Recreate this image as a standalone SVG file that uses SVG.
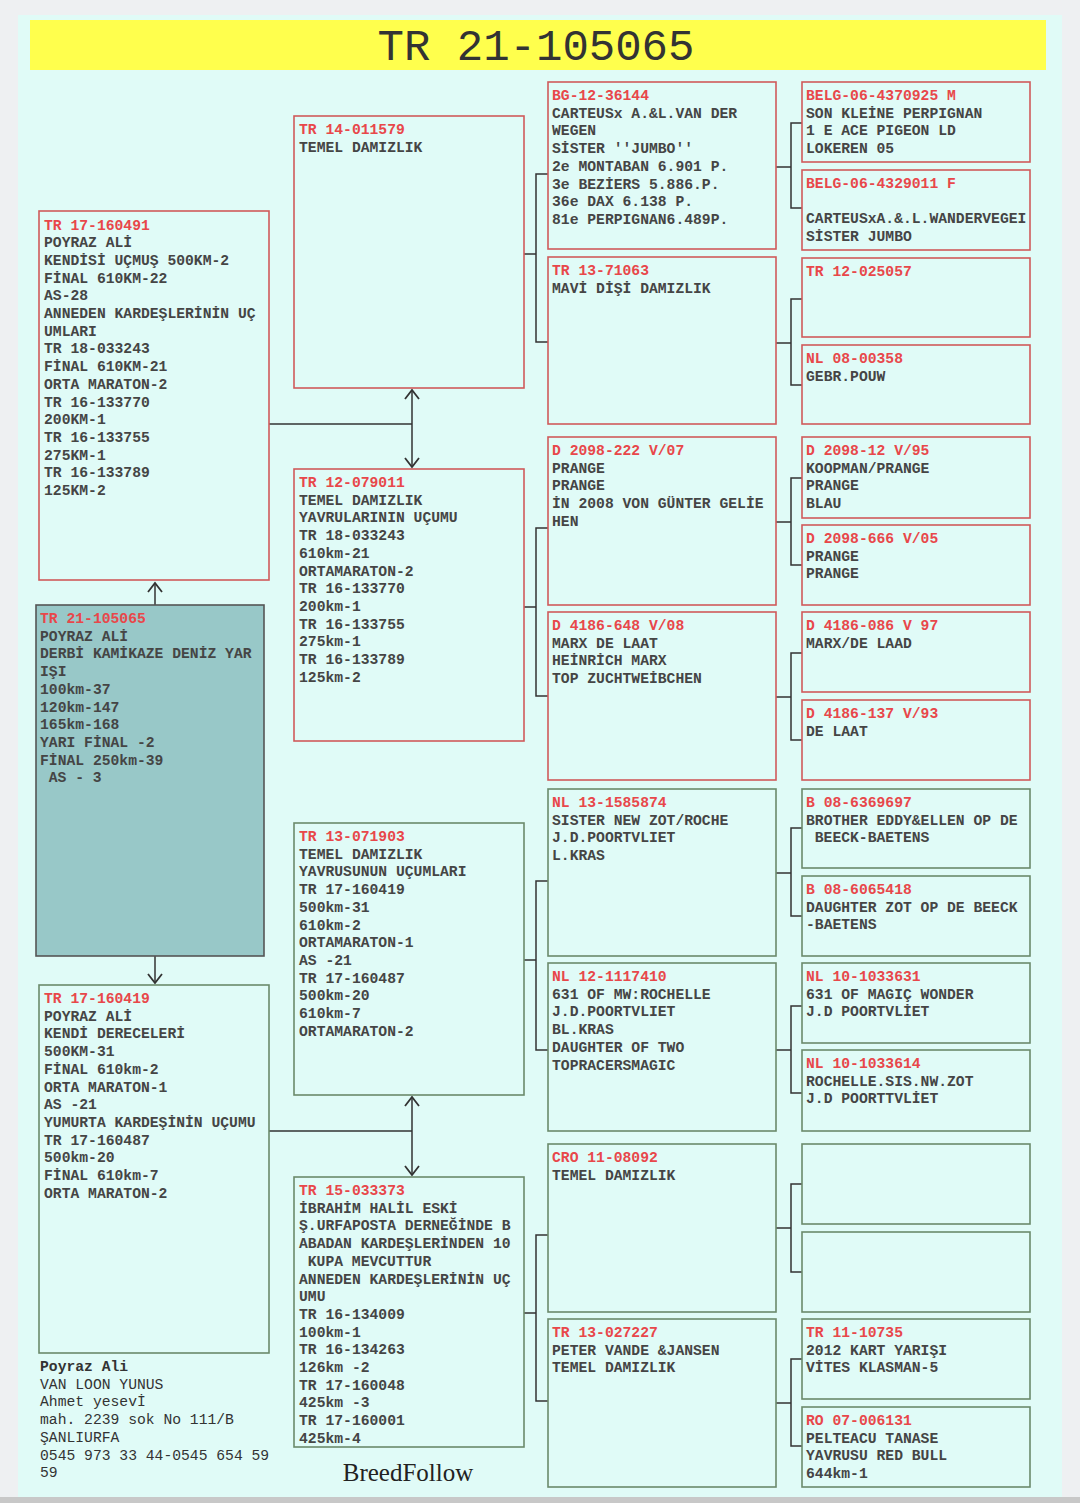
<svg xmlns="http://www.w3.org/2000/svg" width="1080" height="1503" viewBox="0 0 1080 1503">
<style>
.t{font-family:"Liberation Mono","Courier New",monospace;font-size:14.7px;font-weight:bold;fill:#454545}
.l{fill:#e8474a}
.f{font-family:"Liberation Mono","Courier New",monospace;font-size:14.7px;fill:#333}
.nr{fill:none;stroke:#d05a5a;stroke-width:1.6}
.ng{fill:none;stroke:#6b8a6b;stroke-width:1.6}
.sb{fill:#98c8c8;stroke:#555;stroke-width:1.6}
.c{fill:none;stroke:#333;stroke-width:1.5}
</style>
<defs>
<marker id="ah" markerUnits="userSpaceOnUse" markerWidth="20" markerHeight="20" refX="0" refY="0" viewBox="-12 -10 14 20" orient="auto-start-reverse">
<path d="M-9,-7 L0,0 L-9,7" fill="none" stroke="#333" stroke-width="1.8"/>
</marker>
</defs>
<rect x="0" y="0" width="1080" height="1503" fill="#eef0f2"/>
<rect x="18" y="15" width="1044" height="1482" fill="#e0fbf7"/>
<rect x="0" y="1497" width="1080" height="6" fill="#c8c8c8"/>
<rect x="30" y="20" width="1016" height="50" fill="#ffff4d"/>
<text x="536" y="60" text-anchor="middle" font-family="Liberation Mono, monospace" font-size="44" fill="#333">TR 21-105065</text>

<g id="connectors">
<path class="c" d="M155,605 L155,583" marker-end="url(#ah)"/>
<path class="c" d="M155,956 L155,983" marker-end="url(#ah)"/>
<path class="c" d="M269,424 L412,424"/>
<path class="c" d="M412,390 L412,467" marker-start="url(#ah)" marker-end="url(#ah)"/>
<path class="c" d="M269,1131 L412,1131"/>
<path class="c" d="M412,1097 L412,1175" marker-start="url(#ah)" marker-end="url(#ah)"/>
<path class="c" d="M524,254 L536,254 M548,174 L536,174 L536,342 L548,342"/>
<path class="c" d="M524,607 L536,607 M548,528 L536,528 L536,696 L548,696"/>
<path class="c" d="M524,960 L536,960 M548,881 L536,881 L536,1050 L548,1050"/>
<path class="c" d="M524,1313 L536,1313 M548,1235 L536,1235 L536,1401 L548,1401"/>
<path class="c" d="M776,167 L791,167 M802,123 L791,123 L791,208 L802,208"/>
<path class="c" d="M776,343 L791,343 M802,299 L791,299 L791,385 L802,385"/>
<path class="c" d="M776,522 L791,522 M802,478 L791,478 L791,565 L802,565"/>
<path class="c" d="M776,697 L791,697 M802,653 L791,653 L791,740 L802,740"/>
<path class="c" d="M776,873 L791,873 M802,828 L791,828 L791,916 L802,916"/>
<path class="c" d="M776,1050 L791,1050 M802,1006 L791,1006 L791,1093 L802,1093"/>
<path class="c" d="M776,1228 L791,1228 M802,1184 L791,1184 L791,1272 L802,1272"/>
<path class="c" d="M776,1403 L791,1403 M802,1359 L791,1359 L791,1446 L802,1446"/>
</g>

<g id="n-tr17-160491">
<rect class="nr" x="39" y="211" width="230" height="369"/>
<text class="t" x="44" y="229.5"><tspan class="l">TR 17-160491</tspan><tspan x="44" dy="17.7">POYRAZ ALİ</tspan><tspan x="44" dy="17.7">KENDİSİ UÇMUŞ 500KM-2</tspan><tspan x="44" dy="17.7">FİNAL 610KM-22</tspan><tspan x="44" dy="17.7">AS-28</tspan><tspan x="44" dy="17.7">ANNEDEN KARDEŞLERİNİN UÇ</tspan><tspan x="44" dy="17.7">UMLARI</tspan><tspan x="44" dy="17.7">TR 18-033243</tspan><tspan x="44" dy="17.7">FİNAL 610KM-21</tspan><tspan x="44" dy="17.7">ORTA MARATON-2</tspan><tspan x="44" dy="17.7">TR 16-133770</tspan><tspan x="44" dy="17.7">200KM-1</tspan><tspan x="44" dy="17.7">TR 16-133755</tspan><tspan x="44" dy="17.7">275KM-1</tspan><tspan x="44" dy="17.7">TR 16-133789</tspan><tspan x="44" dy="17.7">125KM-2</tspan></text>
</g>

<g id="n-tr21-105065">
<rect class="sb" x="36" y="605" width="228" height="351"/>
<text class="t" x="40" y="623"><tspan class="l">TR 21-105065</tspan><tspan x="40" dy="17.7">POYRAZ ALİ</tspan><tspan x="40" dy="17.7">DERBİ KAMİKAZE DENİZ YAR</tspan><tspan x="40" dy="17.7">IŞI</tspan><tspan x="40" dy="17.7">100km-37</tspan><tspan x="40" dy="17.7">120km-147</tspan><tspan x="40" dy="17.7">165km-168</tspan><tspan x="40" dy="17.7">YARI FİNAL -2</tspan><tspan x="40" dy="17.7">FİNAL 250km-39</tspan><tspan x="48.8" dy="17.7">AS - 3</tspan></text>
</g>

<g id="n-tr17-160419">
<rect class="ng" x="39" y="985" width="230" height="368"/>
<text class="t" x="44" y="1003"><tspan class="l">TR 17-160419</tspan><tspan x="44" dy="17.7">POYRAZ ALİ</tspan><tspan x="44" dy="17.7">KENDİ DERECELERİ</tspan><tspan x="44" dy="17.7">500KM-31</tspan><tspan x="44" dy="17.7">FİNAL 610km-2</tspan><tspan x="44" dy="17.7">ORTA MARATON-1</tspan><tspan x="44" dy="17.7">AS -21</tspan><tspan x="44" dy="17.7">YUMURTA KARDEŞİNİN UÇUMU</tspan><tspan x="44" dy="17.7">TR 17-160487</tspan><tspan x="44" dy="17.7">500km-20</tspan><tspan x="44" dy="17.7">FİNAL 610km-7</tspan><tspan x="44" dy="17.7">ORTA MARATON-2</tspan></text>
</g>

<g id="owner">
<text class="f" x="40" y="1371"><tspan font-weight="bold">Poyraz Ali</tspan><tspan x="40" dy="17.7">VAN LOON YUNUS</tspan><tspan x="40" dy="17.7">Ahmet yesevİ</tspan><tspan x="40" dy="17.7">mah. 2239 sok No 111/B</tspan><tspan x="40" dy="17.7">ŞANLIURFA</tspan><tspan x="40" dy="17.7">0545 973 33 44-0545 654 59</tspan><tspan x="40" dy="17.7">59</tspan></text>
<text x="408" y="1481" text-anchor="middle" font-family="Liberation Serif, serif" font-size="25" fill="#222">BreedFollow</text>
</g>

<g id="n-tr14-011579">
<rect class="nr" x="294" y="116" width="230" height="272"/>
<text class="t" x="299" y="134"><tspan class="l">TR 14-011579</tspan><tspan x="299" dy="17.7">TEMEL DAMIZLIK</tspan></text>
</g>
<g id="n-tr12-079011">
<rect class="nr" x="294" y="469" width="230" height="272"/>
<text class="t" x="299" y="487"><tspan class="l">TR 12-079011</tspan><tspan x="299" dy="17.7">TEMEL DAMIZLIK</tspan><tspan x="299" dy="17.7">YAVRULARININ UÇUMU</tspan><tspan x="299" dy="17.7">TR 18-033243</tspan><tspan x="299" dy="17.7">610km-21</tspan><tspan x="299" dy="17.7">ORTAMARATON-2</tspan><tspan x="299" dy="17.7">TR 16-133770</tspan><tspan x="299" dy="17.7">200km-1</tspan><tspan x="299" dy="17.7">TR 16-133755</tspan><tspan x="299" dy="17.7">275km-1</tspan><tspan x="299" dy="17.7">TR 16-133789</tspan><tspan x="299" dy="17.7">125km-2</tspan></text>
</g>
<g id="n-tr13-071903">
<rect class="ng" x="294" y="823" width="230" height="272"/>
<text class="t" x="299" y="841"><tspan class="l">TR 13-071903</tspan><tspan x="299" dy="17.7">TEMEL DAMIZLIK</tspan><tspan x="299" dy="17.7">YAVRUSUNUN UÇUMLARI</tspan><tspan x="299" dy="17.7">TR 17-160419</tspan><tspan x="299" dy="17.7">500km-31</tspan><tspan x="299" dy="17.7">610km-2</tspan><tspan x="299" dy="17.7">ORTAMARATON-1</tspan><tspan x="299" dy="17.7">AS -21</tspan><tspan x="299" dy="17.7">TR 17-160487</tspan><tspan x="299" dy="17.7">500km-20</tspan><tspan x="299" dy="17.7">610km-7</tspan><tspan x="299" dy="17.7">ORTAMARATON-2</tspan></text>
</g>
<g id="n-tr15-033373">
<rect class="ng" x="294" y="1177" width="230" height="270"/>
<text class="t" x="299" y="1195"><tspan class="l">TR 15-033373</tspan><tspan x="299" dy="17.7">İBRAHİM HALİL ESKİ</tspan><tspan x="299" dy="17.7">Ş.URFAPOSTA DERNEĞİNDE B</tspan><tspan x="299" dy="17.7">ABADAN KARDEŞLERİNDEN 10</tspan><tspan x="307.8" dy="17.7">KUPA MEVCUTTUR</tspan><tspan x="299" dy="17.7">ANNEDEN KARDEŞLERİNİN UÇ</tspan><tspan x="299" dy="17.7">UMU</tspan><tspan x="299" dy="17.7">TR 16-134009</tspan><tspan x="299" dy="17.7">100km-1</tspan><tspan x="299" dy="17.7">TR 16-134263</tspan><tspan x="299" dy="17.7">126km -2</tspan><tspan x="299" dy="17.7">TR 17-160048</tspan><tspan x="299" dy="17.7">425km -3</tspan><tspan x="299" dy="17.7">TR 17-160001</tspan><tspan x="299" dy="17.7">425km-4</tspan></text>
</g>

<g id="n-bg12-36144">
<rect class="nr" x="548" y="82" width="228" height="167"/>
<text class="t" x="552" y="100"><tspan class="l">BG-12-36144</tspan><tspan x="552" dy="17.7">CARTEUSx A.&amp;L.VAN DER</tspan><tspan x="552" dy="17.7">WEGEN</tspan><tspan x="552" dy="17.7">SİSTER ''JUMBO''</tspan><tspan x="552" dy="17.7">2e MONTABAN 6.901 P.</tspan><tspan x="552" dy="17.7">3e BEZİERS 5.886.P.</tspan><tspan x="552" dy="17.7">36e DAX 6.138 P.</tspan><tspan x="552" dy="17.7">81e PERPIGNAN6.489P.</tspan></text>
</g>
<g id="n-tr13-71063">
<rect class="nr" x="548" y="257" width="228" height="167"/>
<text class="t" x="552" y="275"><tspan class="l">TR 13-71063</tspan><tspan x="552" dy="17.7">MAVİ DİŞİ DAMIZLIK</tspan></text>
</g>
<g id="n-d2098-222">
<rect class="nr" x="548" y="437" width="228" height="168"/>
<text class="t" x="552" y="455"><tspan class="l">D 2098-222 V/07</tspan><tspan x="552" dy="17.7">PRANGE</tspan><tspan x="552" dy="17.7">PRANGE</tspan><tspan x="552" dy="17.7">İN 2008 VON GÜNTER GELİE</tspan><tspan x="552" dy="17.7">HEN</tspan></text>
</g>
<g id="n-d4186-648">
<rect class="nr" x="548" y="612" width="228" height="168"/>
<text class="t" x="552" y="630"><tspan class="l">D 4186-648 V/08</tspan><tspan x="552" dy="17.7">MARX DE LAAT</tspan><tspan x="552" dy="17.7">HEİNRİCH MARX</tspan><tspan x="552" dy="17.7">TOP ZUCHTWEİBCHEN</tspan></text>
</g>
<g id="n-nl13-1585874">
<rect class="ng" x="548" y="789" width="228" height="167"/>
<text class="t" x="552" y="807"><tspan class="l">NL 13-1585874</tspan><tspan x="552" dy="17.7">SISTER NEW ZOT/ROCHE</tspan><tspan x="552" dy="17.7">J.D.POORTVLIET</tspan><tspan x="552" dy="17.7">L.KRAS</tspan></text>
</g>
<g id="n-nl12-1117410">
<rect class="ng" x="548" y="963" width="228" height="168"/>
<text class="t" x="552" y="981"><tspan class="l">NL 12-1117410</tspan><tspan x="552" dy="17.7">631 OF MW:ROCHELLE</tspan><tspan x="552" dy="17.7">J.D.POORTVLIET</tspan><tspan x="552" dy="17.7">BL.KRAS</tspan><tspan x="552" dy="17.7">DAUGHTER OF TWO</tspan><tspan x="552" dy="17.7">TOPRACERSMAGIC</tspan></text>
</g>
<g id="n-cro11-08092">
<rect class="ng" x="548" y="1144" width="228" height="168"/>
<text class="t" x="552" y="1162"><tspan class="l">CRO 11-08092</tspan><tspan x="552" dy="17.7">TEMEL DAMIZLIK</tspan></text>
</g>
<g id="n-tr13-027227">
<rect class="ng" x="548" y="1319" width="228" height="168"/>
<text class="t" x="552" y="1337"><tspan class="l">TR 13-027227</tspan><tspan x="552" dy="17.7">PETER VANDE &amp;JANSEN</tspan><tspan x="552" dy="17.7">TEMEL DAMIZLIK</tspan></text>
</g>

<g id="n-belg-4370925">
<rect class="nr" x="802" y="82" width="228" height="80"/>
<text class="t" x="806" y="100"><tspan class="l">BELG-06-4370925 M</tspan><tspan x="806" dy="17.7">SON KLEİNE PERPIGNAN</tspan><tspan x="806" dy="17.7">1 E ACE PIGEON LD</tspan><tspan x="806" dy="17.7">LOKEREN 05</tspan></text>
</g>
<g id="n-belg-4329011">
<rect class="nr" x="802" y="170" width="228" height="80"/>
<text class="t" x="806" y="188"><tspan class="l">BELG-06-4329011 F</tspan><tspan x="806" dy="35.4">CARTEUSxA.&amp;.L.WANDERVEGEI</tspan><tspan x="806" dy="17.7">SİSTER JUMBO</tspan></text>
</g>
<g id="n-tr12-025057">
<rect class="nr" x="802" y="258" width="228" height="79"/>
<text class="t" x="806" y="276"><tspan class="l">TR 12-025057</tspan></text>
</g>
<g id="n-nl08-00358">
<rect class="nr" x="802" y="345" width="228" height="79"/>
<text class="t" x="806" y="363"><tspan class="l">NL 08-00358</tspan><tspan x="806" dy="17.7">GEBR.POUW</tspan></text>
</g>
<g id="n-d2098-12">
<rect class="nr" x="802" y="437" width="228" height="81"/>
<text class="t" x="806" y="455"><tspan class="l">D 2098-12 V/95</tspan><tspan x="806" dy="17.7">KOOPMAN/PRANGE</tspan><tspan x="806" dy="17.7">PRANGE</tspan><tspan x="806" dy="17.7">BLAU</tspan></text>
</g>
<g id="n-d2098-666">
<rect class="nr" x="802" y="525" width="228" height="80"/>
<text class="t" x="806" y="543"><tspan class="l">D 2098-666 V/05</tspan><tspan x="806" dy="17.7">PRANGE</tspan><tspan x="806" dy="17.7">PRANGE</tspan></text>
</g>
<g id="n-d4186-086">
<rect class="nr" x="802" y="612" width="228" height="80"/>
<text class="t" x="806" y="630"><tspan class="l">D 4186-086 V 97</tspan><tspan x="806" dy="17.7">MARX/DE LAAD</tspan></text>
</g>
<g id="n-d4186-137">
<rect class="nr" x="802" y="700" width="228" height="80"/>
<text class="t" x="806" y="718"><tspan class="l">D 4186-137 V/93</tspan><tspan x="806" dy="17.7">DE LAAT</tspan></text>
</g>
<g id="n-b08-6369697">
<rect class="ng" x="802" y="789" width="228" height="79"/>
<text class="t" x="806" y="807"><tspan class="l">B 08-6369697</tspan><tspan x="806" dy="17.7">BROTHER EDDY&amp;ELLEN OP DE</tspan><tspan x="814.8" dy="17.7">BEECK-BAETENS</tspan></text>
</g>
<g id="n-b08-6065418">
<rect class="ng" x="802" y="876" width="228" height="80"/>
<text class="t" x="806" y="894"><tspan class="l">B 08-6065418</tspan><tspan x="806" dy="17.7">DAUGHTER ZOT OP DE BEECK</tspan><tspan x="806" dy="17.7">-BAETENS</tspan></text>
</g>
<g id="n-nl10-1033631">
<rect class="ng" x="802" y="963" width="228" height="80"/>
<text class="t" x="806" y="981"><tspan class="l">NL 10-1033631</tspan><tspan x="806" dy="17.7">631 OF MAGIÇ WONDER</tspan><tspan x="806" dy="17.7">J.D POORTVLİET</tspan></text>
</g>
<g id="n-nl10-1033614">
<rect class="ng" x="802" y="1050" width="228" height="81"/>
<text class="t" x="806" y="1068"><tspan class="l">NL 10-1033614</tspan><tspan x="806" dy="17.7">ROCHELLE.SIS.NW.ZOT</tspan><tspan x="806" dy="17.7">J.D POORTTVLİET</tspan></text>
</g>
<g id="n-empty1">
<rect class="ng" x="802" y="1144" width="228" height="80"/>
</g>
<g id="n-empty2">
<rect class="ng" x="802" y="1232" width="228" height="80"/>
</g>
<g id="n-tr11-10735">
<rect class="ng" x="802" y="1319" width="228" height="80"/>
<text class="t" x="806" y="1337"><tspan class="l">TR 11-10735</tspan><tspan x="806" dy="17.7">2012 KART YARIŞI</tspan><tspan x="806" dy="17.7">VİTES KLASMAN-5</tspan></text>
</g>
<g id="n-ro07-006131">
<rect class="ng" x="802" y="1407" width="228" height="80"/>
<text class="t" x="806" y="1425"><tspan class="l">RO 07-006131</tspan><tspan x="806" dy="17.7">PELTEACU TANASE</tspan><tspan x="806" dy="17.7">YAVRUSU RED BULL</tspan><tspan x="806" dy="17.7">644km-1</tspan></text>
</g>
</svg>
